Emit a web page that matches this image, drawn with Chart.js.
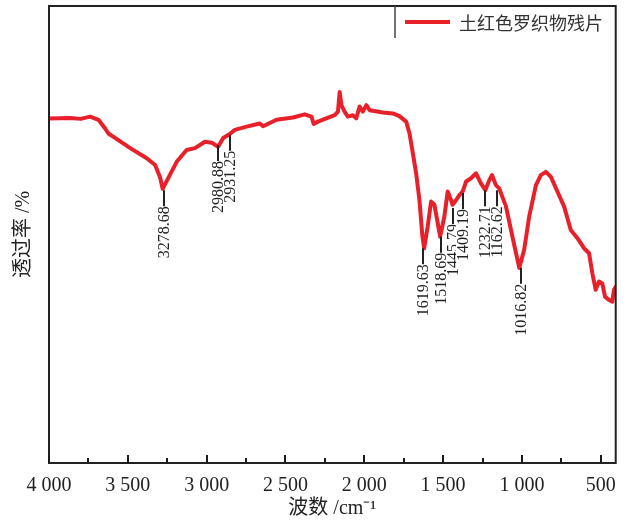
<!DOCTYPE html>
<html><head><meta charset="utf-8">
<script src="https://cdn.jsdelivr.net/npm/chart.js@4.4.1/dist/chart.umd.min.js"></script>
<style>html,body{margin:0;padding:0;background:#fff}#wrap{width:627px;height:523px}</style>
</head><body><div id="wrap"><canvas id="c" width="627" height="523"></canvas></div>
<script>
const seriesName = '土红色罗织物残片';
const wavenumbers = [4000,3865,3800,3739,3686,3644,3623,3593,3485,3380,3327,3296,3279,3243,3190,3127,3074,3011,2968,2927,2895,2853,2821,2747,2663,2642,2557,2452,2378,2335,2321,2294,2241,2188,2167,2156,2145,2125,2104,2072,2051,2030,2009,1998,1987,1966,1882,1819,1777,1734,1713,1692,1671,1650,1631,1620,1598,1576,1555,1534,1519,1492,1471,1449,1440,1418,1397,1376,1354,1323,1291,1260,1232,1207,1190,1165,1144,1101,1060,1017,986,954,911,880,848,816,775,732,690,648,606,574,553,532,511,490,473,448,427,416,405];
const transmittance = [75.4,75.5,75.3,75.8,75.1,73.2,72.1,71.4,68.9,66.7,65.2,62.6,60.0,62.4,65.9,68.5,68.9,70.3,70.1,69.2,71.1,72.0,72.9,73.6,74.3,73.7,75.1,75.6,76.3,75.8,74.2,74.7,75.4,76.1,76.9,81.2,78.3,76.9,75.8,76.1,75.4,78.0,76.9,77.6,78.3,77.2,76.7,76.5,75.9,74.7,72.1,67.8,63.4,57.5,49.5,47.0,51.7,57.2,56.5,52.5,49.5,53.9,59.4,57.5,56.5,57.5,58.6,59.4,61.6,62.3,63.4,61.2,59.7,61.9,63.0,60.8,60.1,56.1,49.5,42.7,46.6,53.9,60.8,63.0,63.7,62.6,59.4,56.1,51.0,49.2,47.0,45.9,41.5,37.9,39.7,39.3,36.4,35.7,35.3,37.9,38.5];
const tickValues = [4000,3500,3000,2500,2000,1500,1000,500];
const tickLabels = ['4 000','3 500','3 000','2 500','2 000','1 500','1 000','500'];
const minorTickValues = [3750,3250,2750,2250,1750,1250,750];
const peakLabels = ['3278.68','2980.88','2931.25','1619.63','1518.69','1445.79','1409.19','1232.71','1162.62','1016.82'];
const peakAnchorX = [3270,2930,2853,1625,1513,1439,1376,1232,1158,1006];
const peakAnchorT = [59.7,69.6,71.8,47.0,49.5,55.8,59.1,59.7,59.7,42.7];
const xTitle = '波数 /cm⁻¹';
const yTitle = '透过率 /%';

const SERIF = "'Liberation Serif', 'Noto Sans CJK SC', serif";
const RED = '#e8202a';
const INK = '#222';

const overlay = {
  id: 'overlay',
  afterDatasetsDraw(chart) {
    const ctx = chart.ctx, a = chart.chartArea;
    const xs = chart.scales.x, ys = chart.scales.y;
    ctx.save();
    ctx.font = '16px ' + SERIF;
    for (let i = 0; i < peakLabels.length; i++) {
      const px = Math.round(xs.getPixelForValue(peakAnchorX[i]));
      const py = ys.getPixelForValue(peakAnchorT[i]);
      const len = 15;
      const w = ctx.measureText(peakLabels[i]).width;
      ctx.fillStyle = '#fff';
      ctx.fillRect(px - 7, py + len, 14, w + 3);
      ctx.strokeStyle = INK; ctx.lineWidth = 2;
      ctx.beginPath(); ctx.moveTo(px, py); ctx.lineTo(px, py + len + 1); ctx.stroke();
      ctx.save();
      ctx.translate(px, py + len + 1);
      ctx.rotate(-Math.PI / 2);
      ctx.fillStyle = INK; ctx.textAlign = 'right'; ctx.textBaseline = 'middle';
      ctx.fillText(peakLabels[i], 0, 1);
      ctx.restore();
    }
    ctx.strokeStyle = INK; ctx.lineWidth = 2;
    ctx.strokeRect(a.left, a.top, a.right - a.left, a.bottom - a.top);
    ctx.lineWidth = 2;
    ctx.strokeStyle = '#1a1a1a';
    tickValues.forEach(v => {
      const x = Math.round(xs.getPixelForValue(v));
      ctx.beginPath(); ctx.moveTo(x, a.bottom); ctx.lineTo(x, a.bottom - 8); ctx.stroke();
    });
    minorTickValues.forEach(v => {
      const x = Math.round(xs.getPixelForValue(v));
      ctx.beginPath(); ctx.moveTo(x, a.bottom); ctx.lineTo(x, a.bottom - 5); ctx.stroke();
    });
    const ds = chart.data.datasets[0];
    const lx = 395, ly = 22;
    ctx.strokeStyle = '#444'; ctx.lineWidth = 1.5;
    ctx.beginPath(); ctx.moveTo(lx, a.top); ctx.lineTo(lx, a.top + 32); ctx.stroke();
    ctx.strokeStyle = ds.borderColor; ctx.lineWidth = 4;
    ctx.beginPath(); ctx.moveTo(405, ly); ctx.lineTo(450, ly); ctx.stroke();
    ctx.fillStyle = '#333'; ctx.font = "18px 'Noto Sans CJK SC', sans-serif";
    ctx.textAlign = 'left'; ctx.textBaseline = 'middle';
    ctx.fillText(ds.label, 459, ly + 1);
    ctx.restore();
  }
};

new Chart(document.getElementById('c'), {
  type: 'line',
  data: {
    datasets: [{
      label: seriesName,
      data: wavenumbers.map((w, i) => ({ x: w, y: transmittance[i] })),
      borderColor: RED, borderWidth: 4, pointRadius: 0, tension: 0,
      borderJoinStyle: 'round', borderCapStyle: 'round', fill: false
    }]
  },
  options: {
    responsive: false, animation: false, devicePixelRatio: 1,
    layout: { padding: { left: 8, right: 10, top: 6, bottom: 2 } },
    plugins: { legend: { display: false }, tooltip: { enabled: false } },
    scales: {
      x: {
        type: 'linear', reverse: true, min: 405, max: 4000,
        afterBuildTicks: s => { s.ticks = tickValues.map(v => ({ value: v })); },
        afterFit: s => { s.height = 58; },
        grid: { display: false, drawTicks: false },
        border: { display: false },
        ticks: {
          padding: 11, maxRotation: 0, autoSkip: false, color: INK,
          font: { family: SERIF, size: 20 },
          callback: v => { const k = tickValues.indexOf(v); return k >= 0 ? tickLabels[k] : ''; }
        },
        title: { display: true, text: xTitle, color: INK, font: { family: SERIF, size: 20 }, padding: { top: 0, bottom: 0 } }
      },
      y: {
        min: 0, max: 100,
        afterFit: s => { s.width = 41; },
        grid: { display: false, drawTicks: false },
        border: { display: false },
        ticks: { display: false },
        title: { display: true, text: yTitle, color: INK, font: { family: SERIF, size: 20 }, padding: { top: 4, bottom: 0 } }
      }
    }
  },
  plugins: [overlay]
});
</script></body></html>
